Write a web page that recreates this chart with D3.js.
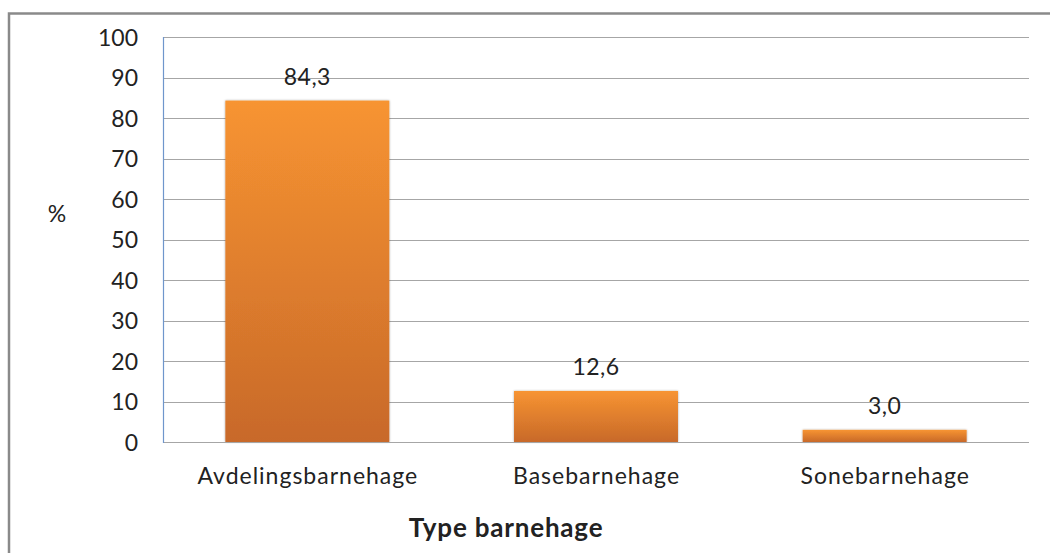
<!DOCTYPE html>
<html>
<head>
<meta charset="utf-8">
<script src="https://cdn.jsdelivr.net/npm/d3@7"></script>
<style>
  html, body { margin: 0; padding: 0; background: #fff; }
  svg { display: block; }
  text { font-family: Lato, "Open Sans", sans-serif; fill: #222; }
</style>
</head>
<body>
<script>
const categories = ["Avdelingsbarnehage", "Basebarnehage", "Sonebarnehage"];
const values = [84.3, 12.6, 3.0];
const valueLabels = ["84,3", "12,6", "3,0"];
const yTicks = [0, 10, 20, 30, 40, 50, 60, 70, 80, 90, 100];
const yTitle = "%";
const xTitle = "Type barnehage";

const W = 1050, H = 553;
const plot = { left: 163, right: 1029, top: 37, bottom: 442 };

const svg = d3.select("body").append("svg").attr("width", W).attr("height", H);

const defs = svg.append("defs");
const grad = defs.append("linearGradient").attr("id", "barGrad")
  .attr("x1", 0).attr("y1", 0).attr("x2", 0).attr("y2", 1);
grad.append("stop").attr("offset", "0%").attr("stop-color", "#F79431");
grad.append("stop").attr("offset", "100%").attr("stop-color", "#C8692A");

const shadow = defs.append("filter").attr("id", "sh").attr("x", "-10%").attr("y", "-10%").attr("width", "120%").attr("height", "120%");
shadow.append("feGaussianBlur").attr("in", "SourceAlpha").attr("stdDeviation", 1.2).attr("result", "b");
shadow.append("feOffset").attr("in", "b").attr("dx", 0).attr("dy", 0).attr("result", "o");
shadow.append("feComponentTransfer").attr("in", "o").attr("result", "o2")
  .append("feFuncA").attr("type", "linear").attr("slope", 0.35);
const m = shadow.append("feMerge");
m.append("feMergeNode").attr("in", "o2");
m.append("feMergeNode").attr("in", "SourceGraphic");

// outer border
svg.append("rect").attr("x", 9).attr("y", 13.5).attr("width", W + 20).attr("height", H + 20)
  .attr("fill", "none").attr("stroke", "#8a8a8a").attr("stroke-width", 2.5);

const x = d3.scaleBand().domain(categories).range([plot.left, plot.right])
  .paddingInner(0.432).paddingOuter(0.216);
const y = d3.scaleLinear().domain([0, 100]).range([plot.bottom, plot.top]);

// gridlines
svg.append("g").selectAll("line").data(yTicks.filter(d => d > 0)).join("line")
  .attr("x1", plot.left).attr("x2", plot.right)
  .attr("y1", d => Math.round(y(d)) + 0.5).attr("y2", d => Math.round(y(d)) + 0.5)
  .attr("stroke", "#a6a6a6").attr("stroke-width", 1.2);

// y axis
const yAxis = d3.axisLeft(y).tickValues(yTicks).tickSize(0).tickPadding(25).tickFormat(d3.format("d"));
const gy = svg.append("g").attr("transform", `translate(${plot.left},0)`).call(yAxis);
gy.select(".domain").remove();
gy.selectAll("text").style("font-size", "23px").attr("fill", "#222").attr("dy", "0.35em");

// bars
svg.append("g").selectAll("rect").data(values).join("rect")
  .attr("x", (d, i) => x(categories[i]))
  .attr("width", x.bandwidth())
  .attr("y", d => y(d))
  .attr("height", d => y(0) - y(d))
  .attr("fill", "url(#barGrad)")
  .attr("filter", "url(#sh)");

// axes lines
svg.append("line").attr("x1", plot.left).attr("x2", plot.right)
  .attr("y1", plot.bottom + 0.5).attr("y2", plot.bottom + 0.5)
  .attr("stroke", "#a6a6a6").attr("stroke-width", 1.2);
svg.append("line").attr("x1", plot.left + 0.5).attr("x2", plot.left + 0.5)
  .attr("y1", plot.top).attr("y2", plot.bottom + 1)
  .attr("stroke", "#6f96cc").attr("stroke-width", 1.2);

// x axis labels
const xAxis = d3.axisBottom(x).tickSize(0).tickPadding(26);
const gx = svg.append("g").attr("transform", `translate(0,${plot.bottom})`).call(xAxis);
gx.select(".domain").remove();
gx.selectAll("text").style("font-size", "23px").style("letter-spacing", "1px")
  .attr("dx", "0.5px").attr("fill", "#222");

// value labels
svg.append("g").selectAll("text").data(values).join("text")
  .attr("x", (d, i) => x(categories[i]) + x.bandwidth() / 2)
  .attr("y", d => y(d) - 24)
  .attr("dy", "0.35em")
  .attr("text-anchor", "middle")
  .style("font-size", "23px")
  .style("letter-spacing", "0.5px")
  .text((d, i) => valueLabels[i]);

// titles
svg.append("text").attr("x", 57).attr("y", 214).attr("dy", "0.35em")
  .attr("text-anchor", "middle").style("font-size", "23px").text(yTitle);
svg.append("text").attr("x", 506).attr("y", 528).attr("dy", "0.35em")
  .attr("text-anchor", "middle").style("font-size", "26px").style("font-weight", "bold")
  .style("letter-spacing", "0.8px")
  .attr("fill", "#000").text(xTitle);
</script>
</body>
</html>
